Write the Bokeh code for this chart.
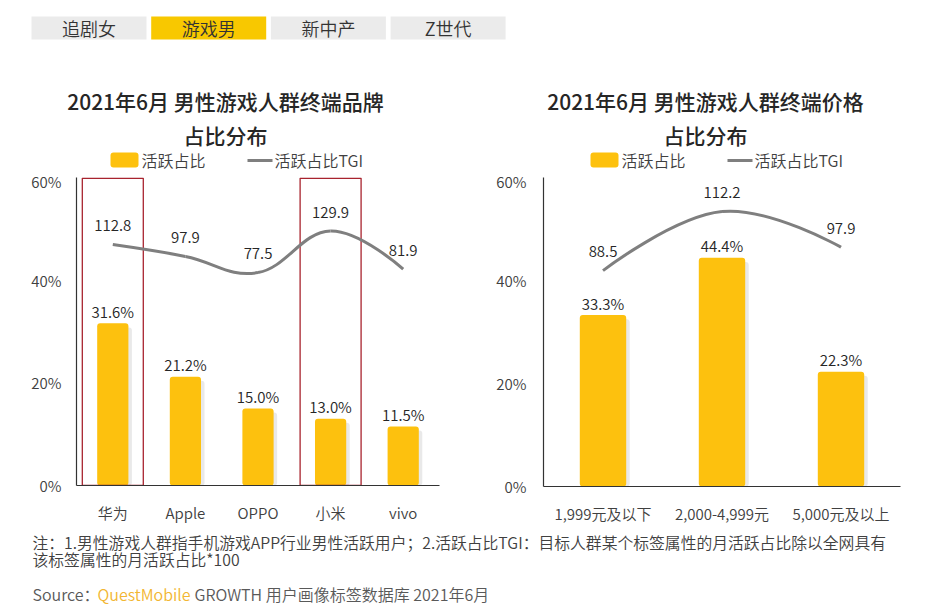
from bokeh.plotting import figure
from bokeh.layouts import column, row
from bokeh.models import Range1d, FactorRange, FixedTicker, PrintfTickFormatter
from bokeh.transform import dodge
from bokeh.core.properties import value
from bokeh.embed import file_html
from bokeh.resources import INLINE

# ---------------- data ----------------
tabs = ["追剧女", "游戏男", "新中产", "Z世代"]
active_tab = "游戏男"

brand_cats = ["华为", "Apple", "OPPO", "小米", "vivo"]
brand_share = [31.6, 21.2, 15.0, 13.0, 11.5]
brand_tgi = [112.8, 97.9, 77.5, 129.9, 81.9]
brand_highlight = ["华为", "小米"]

price_cats = ["1,999元及以下", "2,000-4,999元", "5,000元及以上"]
price_share = [33.3, 44.4, 22.3]
price_tgi = [88.5, 112.2, 97.9]

y_ticks = [0, 20, 40, 60]

title_left = ["2021年6月 男性游戏人群终端品牌", "占比分布"]
title_right = ["2021年6月 男性游戏人群终端价格", "占比分布"]
legend_labels = ["活跃占比", "活跃占比TGI"]
note_lines = [
    "注：1.男性游戏人群指手机游戏APP行业男性活跃用户；2.活跃占比TGI：目标人群某个标签属性的月活跃占比除以全网具有",
    "该标签属性的月活跃占比*100",
]
source_parts = ["Source：", "QuestMobile", "GROWTH 用户画像标签数据库 2021年6月"]

# ---------------- styles ----------------
FONT_NAME = "Noto Sans CJK SC"
FONT = value(FONT_NAME)
TITLE_FONT = value("Noto Sans CJK SC Medium, Noto Sans CJK SC")
LIGHT_NAME = "Noto Sans CJK SC DemiLight, Noto Sans CJK SC"
LIGHT = value(LIGHT_NAME)
BAR = "#FDC10E"
SHADOW = "#E4E4E4"
LINE = "#7F7F7F"
RED = "#A8232E"
TXT = "#262626"
TXT2 = "#404040"
GOLD = "#F8C800"
TABBG = "#EBEBEB"

W = 934
HEAD_H = 170
FOOT_TOP = 528
FOOT_H = 78


def blank(w, h, x0, x1, y0, y1):
    p = figure(width=w, height=h, x_range=Range1d(x0, x1), y_range=Range1d(y0, y1),
               toolbar_location=None, output_backend="svg",
               x_axis_location=None, y_axis_location=None, min_border=0)
    p.outline_line_color = None
    p.xgrid.grid_line_color = None
    p.ygrid.grid_line_color = None
    return p


# ---------------- header ----------------
head = blank(W, HEAD_H, 0, W, HEAD_H, 0)
tab_l = [31 + i * 119.7 for i in range(len(tabs))]
tab_r = [l + 115 for l in tab_l]
tab_c = [(l + r) / 2 for l, r in zip(tab_l, tab_r)]
tab_col = [GOLD if t == active_tab else TABBG for t in tabs]
head.quad(left=tab_l, right=tab_r, top=16, bottom=39, fill_color=tab_col, line_color=None)
head.text(x=tab_c, y=[27.5] * len(tabs), text=tabs, text_font=LIGHT, text_font_size="18px",
          text_color="#333333", text_align="center", text_baseline="middle")

for dx, lines in ((0, title_left), (480, title_right)):
    head.text(x=[225 + dx] * 2, y=[100, 134], text=lines, text_font=TITLE_FONT,
              text_font_size="21px", text_color=TXT,
              text_align="center", text_baseline="middle")
    head.quad(left=110 + dx, right=138 + dx, top=152, bottom=167, fill_color=BAR,
              line_color=None, border_radius=3)
    head.text(x=[141 + dx], y=[159], text=[legend_labels[0]], text_font=LIGHT,
              text_font_size="16px", text_color=TXT2, text_baseline="middle")
    head.segment(x0=247 + dx, y0=160, x1=272 + dx, y1=160, line_color=LINE, line_width=3)
    head.text(x=[274 + dx], y=[159], text=[legend_labels[1]], text_font=LIGHT,
              text_font_size="16px", text_color=TXT2, text_baseline="middle")


# ---------------- charts ----------------
def smooth(xs, ys, k=0.2):
    n = len(xs)
    tx, ty = [], []
    for i in range(n):
        if i == 0 or i == n - 1:
            tx.append(0.0)
            ty.append(0.0)
        else:
            tx.append((xs[i + 1] - xs[i - 1]) * k)
            ty.append((ys[i + 1] - ys[i - 1]) * k)
    d = dict(x0=[], y0=[], x1=[], y1=[], cx0=[], cy0=[], cx1=[], cy1=[])
    for i in range(n - 1):
        d["x0"].append(xs[i]); d["y0"].append(ys[i])
        d["x1"].append(xs[i + 1]); d["y1"].append(ys[i + 1])
        d["cx0"].append(xs[i] + tx[i]); d["cy0"].append(ys[i] + ty[i])
        d["cx1"].append(xs[i + 1] - tx[i + 1]); d["cy1"].append(ys[i + 1] - ty[i + 1])
    return d


def chart(cats, share, tgi, tgi_range, highlight, bar_w, fw, fh, bl, br, bt, bb, ystand):
    p = figure(x_range=FactorRange(*cats), y_range=Range1d(0, 60),
               frame_width=fw, frame_height=fh,
               min_border_left=bl, min_border_right=br, min_border_top=bt, min_border_bottom=bb,
               toolbar_location=None, output_backend="svg")
    p.extra_y_ranges = {"tgi": Range1d(*tgi_range)}
    p.outline_line_color = None
    p.xgrid.grid_line_color = None
    p.ygrid.grid_line_color = None

    for ax in (p.xaxis[0], p.yaxis[0]):
        ax.axis_line_color = "#333333"
        ax.axis_line_width = 1.2
        ax.major_tick_line_color = None
        ax.minor_tick_line_color = None
        ax.major_label_text_font = LIGHT_NAME
        ax.major_label_text_font_size = "15px"
        ax.major_label_text_color = TXT2
    p.yaxis.ticker = FixedTicker(ticks=y_ticks)
    p.yaxis.formatter = PrintfTickFormatter(format="%d%%")
    p.yaxis.major_label_standoff = ystand
    p.xaxis.major_label_standoff = 10

    px_unit = fw / len(cats)
    src = dict(cat=cats, share=share, shadow=[v - 0.8 for v in share],
               lab=[f"{v:.1f}%" for v in share], tgi=tgi, tlab=[f"{v:.1f}" for v in tgi])
    p.vbar(x=dodge("cat", 3.5 / px_unit, range=p.x_range), top="shadow", width=bar_w,
           source=src, fill_color=SHADOW, line_color=None, fill_alpha=0.8, border_radius=3)
    p.vbar(x="cat", top="share", width=bar_w, source=src, fill_color=BAR, line_color=None,
           border_radius=3)
    if highlight:
        p.vbar(x=highlight, top=59.85, bottom=0, width=0.84, fill_color=None,
               line_color=RED, line_width=1.3)
    p.text(x="cat", y="share", text="lab", source=src, y_offset=-12, text_font=LIGHT,
           text_font_size="15px", text_color=TXT, text_align="center", text_baseline="middle")

    xs = [i + 0.5 for i in range(len(cats))]
    seg = smooth(xs, tgi)
    p.bezier(source=seg, x0="x0", y0="y0", x1="x1", y1="y1", cx0="cx0", cy0="cy0",
             cx1="cx1", cy1="cy1", line_color=LINE, line_width=3, y_range_name="tgi")
    p.text(x="cat", y="tgi", text="tlab", source=src, y_offset=-19, y_range_name="tgi",
           text_font=LIGHT, text_font_size="15px", text_color=TXT, text_align="center",
           text_baseline="middle")
    return p


left = chart(brand_cats, brand_share, brand_tgi, (-191.0, 197.4), brand_highlight, 0.43,
             363, 308, 76, 31, 7, 43, 9)
right = chart(price_cats, price_share, price_tgi, (1.8, 125.9), None, 0.39,
              357, 309, 73, 34, 5, 44, 11)

# ---------------- footer ----------------
foot = blank(W, FOOT_H, 0, W, FOOT_TOP + FOOT_H, FOOT_TOP)
foot.text(x=[32, 32], y=[542, 559], text=note_lines, text_font=LIGHT, text_font_size="15.8px",
          text_color=TXT2, text_baseline="middle")
foot.text(x=[32, 97, 194], y=[593] * 3, text=source_parts, text_font=LIGHT,
          text_font_size="16px", text_color=["#595959", "#F2B632", "#595959"],
          text_baseline="middle")

page = column(head, row(left, right), foot)
open("out.html", "w").write(file_html(page, INLINE))
